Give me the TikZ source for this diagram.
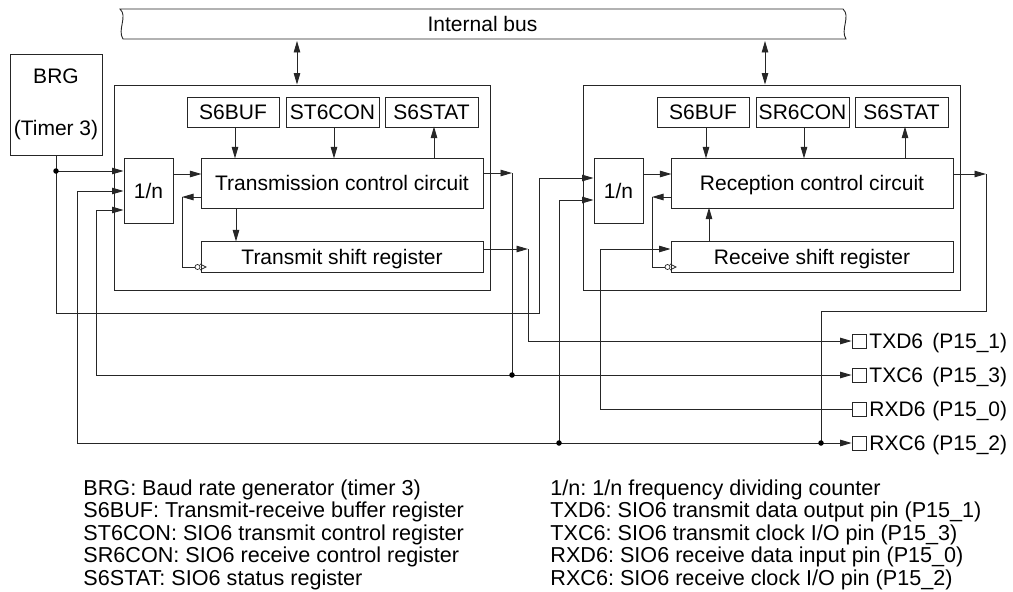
\documentclass[tikz,border=0pt]{standalone}
\usepackage{fontspec}
\setmainfont{Liberation Sans}
\usetikzlibrary{arrows.meta}
\frenchspacing
\begin{document}
\begin{tikzpicture}[x=1pt,y=-1pt, line width=0.9pt, draw=black!85,
  every node/.style={font=\fontsize{21}{25}\selectfont},
  box/.style={draw=black!85, rectangle, inner sep=0pt, text height=15pt, text depth=0pt},
  tallbox/.style={draw=black!85, rectangle, inner sep=0pt, align=center},
  >={Triangle[length=11.5pt,width=6.5pt]},
  dot/.style={circle, fill=black, inner sep=0pt, minimum size=5.5pt},
  pinsq/.style={draw=black!85, rectangle, minimum size=14pt, inner sep=0pt, line width=0.8pt},
  txt/.style={anchor=base west, inner sep=0pt},
  legend/.style={anchor=base west, inner sep=0pt, font=\fontsize{21.6}{25}\selectfont}]
\useasboundingbox (0,0) rectangle (1013,592);

% internal bus
\node[inner sep=0pt, minimum width=720pt, minimum height=30pt] (bus) at (482.5,24) {Internal bus};
\draw (120,9) -- (843,9) .. controls (851,16) and (840,30) .. (846,39) -- (123,39) .. controls (117,30) and (128,16) .. (120,9) -- cycle;

% BRG
\node[tallbox, minimum width=92pt, minimum height=101pt] (brg) at (56,104.5) {BRG\\[27pt](Timer 3)};

% left block
\node[box, minimum width=376pt, minimum height=205pt] (outL) at (302,187.5) {};
\node[box, minimum width=92pt, minimum height=30pt] (bufL) at (233,112) {S6BUF};
\node[box, minimum width=93pt, minimum height=30pt] (conL) at (332.5,112) {ST6CON};
\node[box, minimum width=93pt, minimum height=30pt] (statL) at (431.5,112) {S6STAT};
\node[box, minimum width=49pt, minimum height=65pt] (divL) at (148.5,190.5) {1/n};
\node[box, minimum width=282pt, minimum height=50pt] (tcc) at (342,183) {Transmission control circuit};
\node[box, minimum width=282pt, minimum height=31pt] (tsr) at (342,256.5) {Transmit shift register};

% right block
\node[box, minimum width=377pt, minimum height=205pt] (outR) at (771.5,187.5) {};
\node[box, minimum width=92pt, minimum height=30pt] (bufR) at (703,112) {S6BUF};
\node[box, minimum width=93pt, minimum height=30pt] (conR) at (802.5,112) {SR6CON};
\node[box, minimum width=93pt, minimum height=30pt] (statR) at (901.5,112) {S6STAT};
\node[box, minimum width=49pt, minimum height=65pt] (divR) at (618.5,190.5) {1/n};
\node[box, minimum width=282pt, minimum height=50pt] (rcc) at (812,183) {Reception control circuit};
\node[box, minimum width=282pt, minimum height=31pt] (rsr) at (812,256.5) {Receive shift register};

% pins
\node[pinsq] (pinTXD) at (859,341) {};
\node[pinsq] (pinTXC) at (859,375) {};
\node[pinsq] (pinRXD) at (859,409) {};
\node[pinsq] (pinRXC) at (859,443) {};
\node[txt] (nTXD) at (869,348.5) {TXD6};
\node[txt] (qTXD) at (932,348.5) {(P15\_1)};
\node[txt] (nTXC) at (869,382.5) {TXC6};
\node[txt] (qTXC) at (932,382.5) {(P15\_3)};
\node[txt] (nRXD) at (869,416.5) {RXD6};
\node[txt] (qRXD) at (932,416.5) {(P15\_0)};
\node[txt] (nRXC) at (869,450.5) {RXC6};
\node[txt] (qRXC) at (932,450.5) {(P15\_2)};

% bus arrows
\coordinate (aL) at ([xshift=-5pt]outL.north);
\coordinate (aR) at ([xshift=-6.5pt]outR.north);
\draw[<->, shorten >=1.5pt] (aL) -- (aL |- bus.south);
\draw[<->, shorten >=1.5pt] (aR) -- (aR |- bus.south);

% left internal connectors
\draw[->] ([xshift=2pt]bufL.south) -- ++(0,31);
\draw[->] ([xshift=1.5pt]conL.south) -- ++(0,31);
\draw[->] ([xshift=92pt]tcc.north) -- ++(0,-31);
\draw[->] ([xshift=-106pt]tcc.south) -- ++(0,33);
\draw[->] ([yshift=16.5pt]divL.east) -- ++(28,0);
\coordinate (lpL) at (182,197);
\coordinate (ckL) at (182,267);
\draw[->] (lpL -| tcc.west) -- (lpL);
\draw (lpL) -- (ckL) -- ++(12.5,0);
\draw[line width=0.7pt] (197.5,267) circle (2.5pt);
\draw[line width=0.7pt] (200,264) -- (206,267) -- (200,270);

% right internal connectors
\draw[->] ([xshift=3pt]bufR.south) -- ++(0,31);
\draw[->] ([xshift=1.5pt]conR.south) -- ++(0,31);
\draw[->] ([xshift=93pt]rcc.north) -- ++(0,-31);
\draw[->] ([xshift=-103pt]rsr.north) -- ++(0,-33);
\draw[->] ([yshift=16.5pt]divR.east) -- ++(28,0);
\coordinate (lpR) at (652,197);
\coordinate (ckR) at (652,267);
\draw[->] (lpR -| rcc.west) -- (lpR);
\draw (lpR) -- (ckR) -- ++(12.5,0);
\draw[line width=0.7pt] (667.5,267) circle (2.5pt);
\draw[line width=0.7pt] (670,264) -- (676,267) -- (670,270);

% BRG clock lines
\coordinate (brgdot) at (56,171);
\coordinate (bB) at (56,313);
\coordinate (bC) at (539,313);
\coordinate (bD) at (539,178);
\draw (brg.south) -- (brgdot);
\draw[->] (brgdot) -- (brgdot -| divL.west);
\draw[->] (brgdot) -- (bB) -- (bC) -- (bD) -- (bD -| divR.west);
\node[dot] at (brgdot) {};

% TXC6 / RXC6 clock lines into 1/n
\coordinate (l2) at (77,191);
\coordinate (l3) at (96,210);
\draw[<->] (l2 -| divL.west) -- (l2) -- (l2 |- pinRXC.west) -- (pinRXC.west);
\draw[<->] (l3 -| divL.west) -- (l3) -- (l3 |- pinTXC.west) -- (pinTXC.west);

% transmission outputs
\coordinate (tO) at (512,173);
\draw[->] (tO -| tcc.east) -- (tO);
\draw (tO) -- (tO |- pinTXC.west);
\node[dot] at (tO |- pinTXC.west) {};
\coordinate (sO) at (528,249);
\draw[->] (sO -| tsr.east) -- (sO);
\draw[->] (sO) |- (pinTXD.west);

% reception side
\coordinate (r2) at (559,200);
\draw[->] (r2 |- pinRXC.west) -- (r2) -- (r2 -| divR.west);
\node[dot] at (r2 |- pinRXC.west) {};
\coordinate (rx) at (600,249);
\draw[->] (pinRXD.west) -| (rx) -- (rx -| rsr.west);
\coordinate (rO) at (986,174);
\coordinate (rO2) at (821,311);
\draw[->] (rO -| rcc.east) -- (rO);
\draw (rO) |- (rO2) -- (rO2 |- pinRXC.west);
\node[dot] at (rO2 |- pinRXC.west) {};

% legend
\node[legend] (g1) at (83,495) {BRG: Baud rate generator (timer 3)};
\node[legend] (g2) at (83,517.5) {S6BUF: Transmit-receive buffer register};
\node[legend] (g3) at (83,540) {ST6CON: SIO6 transmit control register};
\node[legend] (g4) at (83,562.5) {SR6CON: SIO6 receive control register};
\node[legend] (g5) at (83,585) {S6STAT: SIO6 status register};
\node[legend] (h1) at (550,495) {1/n: 1/n frequency dividing counter};
\node[legend] (h2) at (550,517.5) {TXD6: SIO6 transmit data output pin (P15\_1)};
\node[legend] (h3) at (550,540) {TXC6: SIO6 transmit clock I/O pin (P15\_3)};
\node[legend] (h4) at (550,562.5) {RXD6: SIO6 receive data input pin (P15\_0)};
\node[legend] (h5) at (550,585) {RXC6: SIO6 receive clock I/O pin (P15\_2)};
\end{tikzpicture}
\end{document}
